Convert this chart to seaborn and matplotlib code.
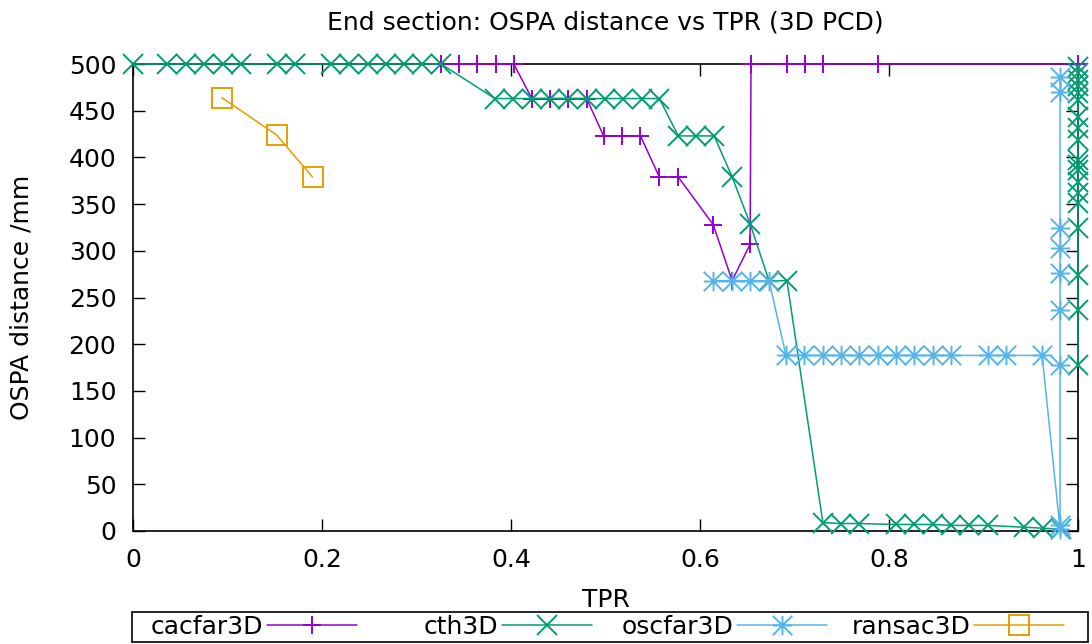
import matplotlib
matplotlib.use("Agg")
import matplotlib.pyplot as plt
from matplotlib.path import Path
from matplotlib.patches import Rectangle
import seaborn as sns
import pandas as pd

# --- data -------------------------------------------------------------
cacfar_tpr = [0.326, 0.345, 0.364, 0.384, 0.403,
              0.422, 0.441, 0.460, 0.480,
              0.498, 0.517, 0.537,
              0.557, 0.577,
              0.614, 0.634, 0.653,
              0.654, 0.692, 0.711, 0.730, 0.788, 1.0]
cacfar_ospa = [500, 500, 500, 500, 500,
               463, 463, 463, 463,
               423, 423, 423,
               379, 379,
               328, 268, 307,
               500, 500, 500, 500, 500, 500]

cth_tpr = [0.0, 0.036, 0.056, 0.075, 0.095, 0.114, 0.152, 0.171,
           0.210, 0.229, 0.249, 0.268, 0.287, 0.306, 0.326,
           0.383, 0.402, 0.422, 0.441, 0.460, 0.480, 0.499, 0.518, 0.539, 0.557,
           0.577, 0.596, 0.615,
           0.634, 0.653, 0.673, 0.692,
           0.730, 0.749, 0.768, 0.807, 0.826, 0.847, 0.866, 0.885, 0.905,
           0.943, 0.963, 0.982]
cth_ospa = [500, 500, 500, 500, 500, 500, 500, 500,
            500, 500, 500, 500, 500, 500, 500,
            463, 463, 463, 463, 463, 463, 463, 463, 463, 463,
            423, 423, 423,
            379, 329, 268, 268,
            9, 8, 8, 7, 7, 7, 6, 6, 6,
            4, 3, 2]
# cth3D points that reach TPR = 1
cth_full_tpr = [1.0] * 19
cth_full_ospa = [178, 237, 274, 324, 351, 362, 374, 387, 392, 397,
                 419, 431, 443, 461, 469, 476, 483, 490, 497]

oscfar_tpr = [0.614, 0.634, 0.653, 0.673,
              0.691, 0.710, 0.730, 0.749, 0.768, 0.788, 0.807, 0.826, 0.847, 0.866,
              0.905, 0.924, 0.962,
              0.981, 0.981, 0.981, 0.981, 0.981, 0.981, 0.981, 0.981, 0.981]
oscfar_ospa = [268, 268, 268, 268,
               188, 188, 188, 188, 188, 188, 188, 188, 188, 188,
               188, 188, 188,
               2, 6, 178, 237, 276, 303, 324, 470, 486]

ransac_tpr = [0.094, 0.152, 0.190]
ransac_ospa = [464, 424, 379]

series = ["cacfar3D", "cth3D", "oscfar3D", "ransac3D"]
colors = ["#9400d3", "#009e73", "#56b4e9", "#e69f00"]

# asterisk marker: plus and cross combined
asterisk = Path([(-1, 0), (1, 0), (0, -1), (0, 1), (-1, -1), (1, 1), (-1, 1), (1, -1)],
                [Path.MOVETO, Path.LINETO] * 4)
markers = ["+", "x", asterisk, "s"]
marker_sizes = [13.5, 14.5, 14, 14]

frames = [
    pd.DataFrame({"TPR": cacfar_tpr, "OSPA": cacfar_ospa, "method": "cacfar3D", "part": 0}),
    pd.DataFrame({"TPR": cth_tpr, "OSPA": cth_ospa, "method": "cth3D", "part": 0}),
    pd.DataFrame({"TPR": cth_full_tpr, "OSPA": cth_full_ospa, "method": "cth3D", "part": 1}),
    pd.DataFrame({"TPR": oscfar_tpr, "OSPA": oscfar_ospa, "method": "oscfar3D", "part": 0}),
    pd.DataFrame({"TPR": ransac_tpr, "OSPA": ransac_ospa, "method": "ransac3D", "part": 0}),
]
df = pd.concat(frames, ignore_index=True)

# --- style ------------------------------------------------------------
sns.set_theme(style="white")
plt.rcParams["font.family"] = ["DejaVu Sans"]
plt.rcParams["font.size"] = 18
plt.rcParams["text.color"] = "black"

fig = plt.figure(figsize=(10.92, 6.44), dpi=100)
ax = fig.add_axes([133 / 1092, 1 - 531 / 644, (1078 - 133) / 1092, (531 - 64) / 644])

handles = {}
for name, col, mk, ms in zip(series, colors, markers, marker_sizes):
    for part in (0, 1):
        sub = df[(df["method"] == name) & (df["part"] == part)]
        if sub.empty:
            continue
        sns.lineplot(data=sub, x="TPR", y="OSPA", ax=ax, sort=False, estimator=None,
                     color=col, marker=mk, markersize=ms,
                     markerfacecolor="none" if mk == "s" else col,
                     markeredgecolor=col, markeredgewidth=1.4, linewidth=1.1,
                     label=name if part == 0 else "_nolegend_",
                     clip_on=False, zorder=3, legend=False)
        if part == 0:
            handles[name] = ax.get_lines()[-1]

ax.set_xlim(0, 1)
ax.set_ylim(0, 500)
ax.set_xticks([0, 0.2, 0.4, 0.6, 0.8, 1.0])
ax.set_xticklabels(["0", "0.2", "0.4", "0.6", "0.8", "1"])
ax.set_yticks(range(0, 501, 50))
ax.tick_params(axis="both", direction="in", length=8.5, width=1.0, color="black",
               labelsize=18, labelcolor="black", top=True, right=True,
               bottom=True, left=True)
ax.tick_params(axis="x", pad=12)
ax.tick_params(axis="y", pad=12)
for s in ax.spines.values():
    s.set_color("black")
    s.set_linewidth(1.2)
    s.set_zorder(2.5)

ax.set_title("End section: OSPA distance vs TPR (3D PCD)", fontsize=18, pad=25,
             color="black")
ax.set_xlabel("TPR", fontsize=18, va="center", color="black")
ax.set_ylabel("OSPA distance /mm", fontsize=18, va="center", color="black")
ax.xaxis.set_label_coords(0.5, (531 - 600) / 467)
ax.yaxis.set_label_coords((22 - 133) / 945, 0.5)

# key along the bottom: label right-aligned before its sample line
key_right = [357, 592, 827, 1064]
for name, xr in zip(series, key_right):
    fig.legend([handles[name]], [name], loc="center right",
               bbox_to_anchor=(xr / 1092, (644 - 627) / 644),
               markerfirst=False, frameon=False, handlelength=3.6,
               handletextpad=0.15, borderpad=0, borderaxespad=0,
               fontsize=18, labelcolor="black")
fig.add_artist(Rectangle((132 / 1092, 2 / 644), (1088 - 132) / 1092, 30 / 644,
                         transform=fig.transFigure, fill=False,
                         edgecolor="black", linewidth=1.2))

fig.savefig("out.png", dpi=100)
